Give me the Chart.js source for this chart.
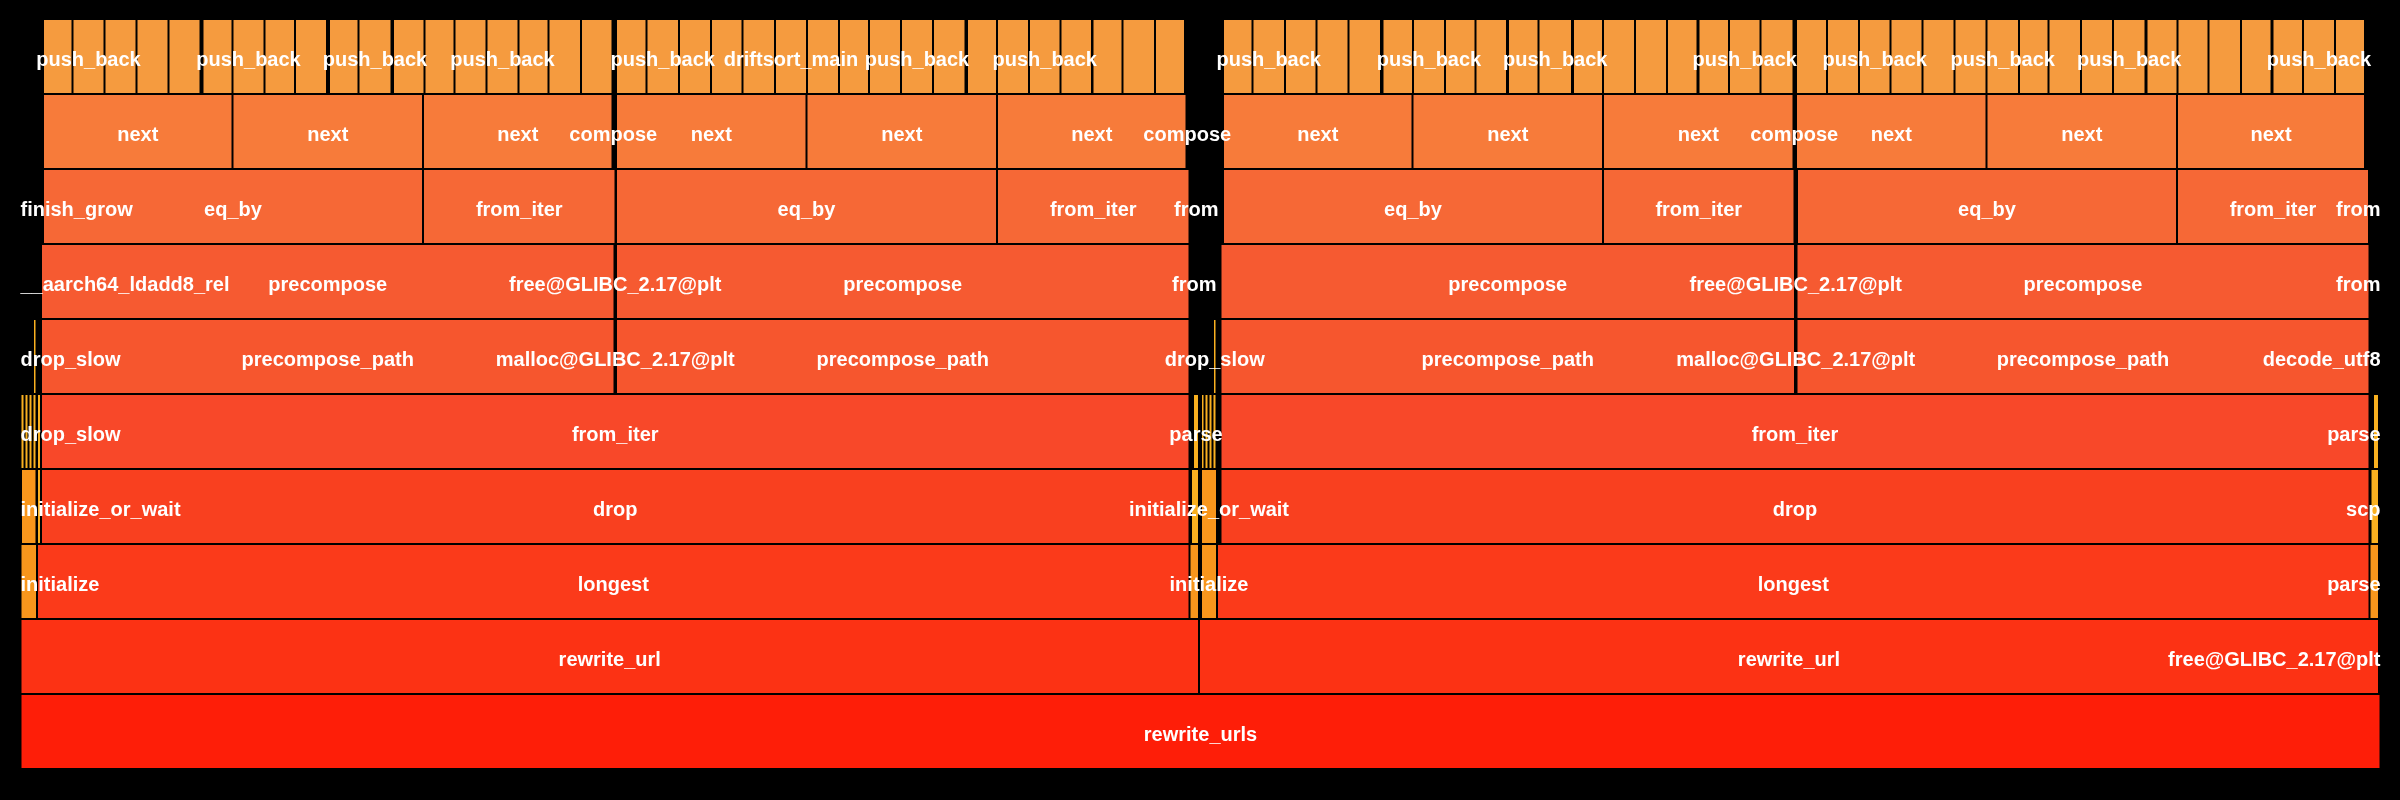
<!DOCTYPE html>
<html>
<head>
<meta charset="utf-8">
<title>rewrite_urls flame graph</title>
<script src="https://cdn.jsdelivr.net/npm/chart.js@4.4.1/dist/chart.umd.min.js"></script>
<style>
    html, body { margin: 0; padding: 0; background: #000; }
    #wrap { width: 2400px; height: 800px; }
</style>
</head>
<body>
<div id="wrap"><canvas id="flame"></canvas></div>
<script>
// --- DATA ---
// One list per stack depth (0 = root). Each frame is [startSample, endSample, label].
// An empty label means the frame name is not printed in the picture.
const totalSamples = 4720;
const depthLabels = ['0', '1', '2', '3', '4', '5', '6', '7', '8', '9'];

const depth0 = [[0, 4720, 'rewrite_urls']];
const depth1 = [[0, 2357, 'rewrite_url'], [2357, 4717, 'rewrite_url'], [4717, 4720, 'free@GLIBC_2.17@plt']];
const depth2 = [
    [0, 33, 'initialize'], [33, 2338, 'longest'], [2338, 2357, ''],
    [2361, 2393, 'initialize'], [2393, 4698, 'longest'], [4698, 4717, 'parse']
];
const depth3 = [
    [1, 32, 'initialize_or_wait'], [33, 41, ''], [41, 2338, 'drop'], [2341, 2357, ''],
    [2361, 2393, 'initialize_or_wait'], [2400, 4698, 'drop'], [4700, 4717, 'scp']
];
const depth4 = [
    [0, 8, 'drop_slow'], [8, 16, ''], [16, 24, ''], [24, 32, ''], [33, 41, ''],
    [41, 2338, 'from_iter'], [2345, 2357, 'parse'],
    [2361, 2368, ''], [2368, 2376, ''], [2376, 2384, ''], [2384, 2392, ''],
    [2400, 4698, 'from_iter'], [4705, 4717, 'parse']
];
const depth5 = [
    [25, 32, 'drop_slow'], [41, 1188, 'precompose_path'], [1188, 1191, 'malloc@GLIBC_2.17@plt'],
    [1191, 2338, 'precompose_path'], [2385, 2392, 'drop_slow'], [2400, 3549, 'precompose_path'],
    [3549, 3552, 'malloc@GLIBC_2.17@plt'], [3552, 4698, 'precompose_path'], [4698, 4701, 'decode_utf8']
];
const depth6 = [
    [26, 29, '__aarch64_ldadd8_rel'], [41, 1188, 'precompose'], [1188, 1191, 'free@GLIBC_2.17@plt'],
    [1191, 2338, 'precompose'], [2346, 2349, 'from'], [2400, 3549, 'precompose'],
    [3549, 3552, 'free@GLIBC_2.17@plt'], [3552, 4698, 'precompose'], [4698, 4701, 'from']
];
const depth7 = [
    [42, 45, 'finish_grow'], [45, 805, 'eq_by'], [805, 1190, 'from_iter'], [1191, 1953, 'eq_by'],
    [1953, 2338, 'from_iter'], [2350, 2353, 'from'], [2405, 3165, 'eq_by'], [3165, 3548, 'from_iter'],
    [3553, 4313, 'eq_by'], [4313, 4697, 'from_iter'], [4697, 4700, 'from']
];
const depth8 = [
    [45, 424, 'next'], [424, 805, 'next'], [805, 1184, 'next'], [1184, 1187, 'compose'],
    [1191, 1572, 'next'], [1572, 1953, 'next'], [1953, 2332, 'next'], [2332, 2335, 'compose'],
    [2405, 2784, 'next'], [2784, 3165, 'next'], [3165, 3546, 'next'], [3546, 3549, 'compose'],
    [3551, 3932, 'next'], [3932, 4313, 'next'], [4313, 4689, 'next']
];
const depth9 = [
    [45, 104, ''], [104, 168, 'push_back'], [168, 232, ''], [232, 296, ''], [296, 360, ''], [364, 424, ''],
    [424, 488, 'push_back'], [488, 549, ''], [549, 613, ''], [617, 676, ''], [676, 742, 'push_back'], [745, 808, ''],
    [808, 868, ''], [868, 932, ''], [932, 996, 'push_back'], [996, 1056, ''], [1056, 1121, ''], [1121, 1184, ''],
    [1191, 1252, ''], [1252, 1317, 'push_back'], [1317, 1381, ''], [1381, 1444, ''], [1444, 1509, ''], [1509, 1573, 'driftsort_main'],
    [1573, 1637, ''], [1637, 1697, ''], [1697, 1761, ''], [1761, 1825, 'push_back'], [1825, 1890, ''], [1893, 1953, ''],
    [1953, 2017, ''], [2017, 2080, 'push_back'], [2080, 2143, ''], [2144, 2204, ''], [2204, 2269, ''], [2269, 2329, ''],
    [2405, 2464, ''], [2464, 2529, 'push_back'], [2529, 2592, ''], [2592, 2656, ''], [2656, 2721, ''], [2724, 2785, ''],
    [2785, 2849, 'push_back'], [2849, 2910, ''], [2910, 2973, ''], [2975, 3036, ''], [3036, 3103, 'push_back'], [3105, 3165, ''],
    [3165, 3229, ''], [3229, 3293, ''], [3293, 3354, ''], [3356, 3417, ''], [3417, 3480, 'push_back'], [3480, 3546, ''],
    [3551, 3613, ''], [3613, 3677, ''], [3677, 3740, 'push_back'], [3740, 3804, ''], [3804, 3868, ''], [3868, 3932, ''],
    [3932, 3997, 'push_back'], [3997, 4056, ''], [4056, 4121, ''], [4121, 4185, ''], [4185, 4250, 'push_back'], [4252, 4314, ''],
    [4314, 4376, ''], [4376, 4441, ''], [4441, 4502, ''], [4504, 4565, ''], [4565, 4629, 'push_back'], [4629, 4689, '']
];

const stackDepths = [depth0, depth1, depth2, depth3, depth4, depth5, depth6, depth7, depth8, depth9];

// colours run from red at the root to orange at the leaves
const depthColors = ['#FE1E08', '#FC3214', '#FB3A1A', '#F9401F', '#F84829', '#F6562E',
                     '#F65A31', '#F66836', '#F77B3A', '#F59B3F'];

function frameColor(depth, start, end) {
    const w = end - start;
    if (depth <= 5 && w < 18) return '#F9B020';
    if (depth <= 5 && w < 40) return '#F8961C';
    return depthColors[depth];
}

const frames = [];
stackDepths.forEach((row, d) => {
    row.forEach(([s, e, label]) => {
        frames.push({ x: [s, e], y: depthLabels[d], label: label, color: frameColor(d, s, e) });
    });
});

const frameLabels = {
    id: 'frameLabels',
    afterDatasetsDraw(chart) {
        const { ctx, chartArea } = chart;
        const meta = chart.getDatasetMeta(0);
        ctx.save();
        ctx.font = 'bold 20px "Liberation Sans", Arial, sans-serif';
        ctx.fillStyle = '#ffffff';
        ctx.textAlign = 'center';
        ctx.textBaseline = 'middle';
        meta.data.forEach((bar, i) => {
            const text = frames[i].label;
            if (!text) return;
            const w = ctx.measureText(text).width;
            let x = (bar.x + bar.base) / 2;
            // keep names inside the plot, like the original
            x = Math.max(chartArea.left + w / 2, Math.min(chartArea.right - w / 2, x));
            ctx.fillText(text, x, bar.y + 4);
        });
        ctx.restore();
    }
};

new Chart(document.getElementById('flame'), {
    type: 'bar',
    data: {
        labels: depthLabels,
        datasets: [{
            data: frames,
            backgroundColor: frames.map(f => f.color),
            borderColor: '#000000',
            borderWidth: 1,
            borderSkipped: false,
            inflateAmount: 0,
            barPercentage: 1,
            categoryPercentage: 1
        }]
    },
    options: {
        indexAxis: 'y',
        responsive: true,
        maintainAspectRatio: false,
        animation: false,
        events: [],
        layout: { padding: { left: 20.5, right: 19.5, top: 19, bottom: 31 } },
        scales: {
            x: { type: 'linear', min: 0, max: totalSamples, display: false },
            y: { type: 'category', reverse: true, display: false }
        },
        plugins: {
            legend: { display: false },
            tooltip: { enabled: false }
        }
    },
    plugins: [frameLabels]
});
</script>
</body>
</html>
